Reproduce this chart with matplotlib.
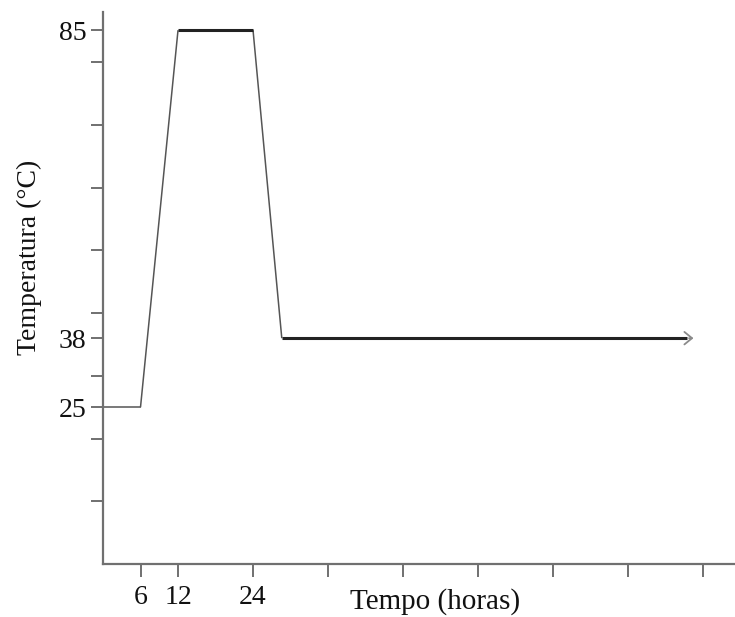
import numpy as np
import matplotlib.pyplot as plt

plt.rcParams['font.family'] = ['Liberation Serif', 'DejaVu Serif']

# temperature program (hours, degC)
tempo = [0, 6, 12, 24, 28.6, 93.5]
temperatura = [25, 25, 85, 85, 38, 38]

x_ticks = [6, 12, 24, 36, 48, 60, 72, 84, 96]
x_tick_labels = ['6', '12', '24', '', '', '', '', '', '']
y_labeled = [25, 38, 85]

# schematic (non-linear) vertical axis: temperature -> drawing position
t_anchor = [0, 25, 38, 85, 100]
p_anchor = [0, 2.5, 3.6, 8.51, 10.08]


def fwd(t):
    return np.interp(t, t_anchor, p_anchor)


def inv(p):
    return np.interp(p, p_anchor, t_anchor)


fig = plt.figure(figsize=(7.35, 6.17), dpi=100)
ax = fig.add_axes([103 / 735, 53 / 617, 632 / 735, 552 / 617])
ax.set_yscale('function', functions=(fwd, inv))

axis_col = '#707070'
# thin sloped segments, thick plateaus
thin = [(0, 1), (1, 2), (3, 4)]
thick = [(2, 3), (4, 5)]
for a, b in thin:
    ax.plot(tempo[a:b + 1], temperatura[a:b + 1], color='#555555', lw=1.1,
            solid_capstyle='butt')
for a, b in thick:
    ax.plot(tempo[a:b + 1], temperatura[a:b + 1], color='#222222', lw=2.2,
            solid_capstyle='butt')

ax.annotate('', xy=(tempo[-1] + 1.4, temperatura[-1]),
            xytext=(tempo[-1] - 0.2, temperatura[-1]),
            arrowprops=dict(arrowstyle='->,head_length=0.55,head_width=0.45',
                            color='#8a8a8a', lw=1.3))

ax.set_xlim(0, 101.1)
ax.set_ylim(0, inv(8.8))

ax.set_xticks(x_ticks)
ax.set_xticklabels(x_tick_labels)
y_minor = list(inv(np.arange(1, 9)))
ax.set_yticks(y_minor + y_labeled)
ax.set_yticklabels([''] * len(y_minor) + [str(v) for v in y_labeled])

for s in ['top', 'right']:
    ax.spines[s].set_visible(False)
for s in ['left', 'bottom']:
    ax.spines[s].set_color(axis_col)
    ax.spines[s].set_linewidth(1.6)

ax.tick_params(axis='both', length=9, width=1.4, color=axis_col,
               labelsize=20, labelcolor='#111111')
ax.tick_params(axis='x', pad=6)
ax.tick_params(axis='y', pad=3)

ax.set_xlabel('Tempo (horas)', fontsize=21, color='#111111')
ax.xaxis.set_label_coords(0.525, -0.043)
ax.set_ylabel('Temperatura (°C)', fontsize=20, color='#111111')
ax.yaxis.set_label_coords(-0.097, 0.556)

fig.savefig('out.png', dpi=100)
